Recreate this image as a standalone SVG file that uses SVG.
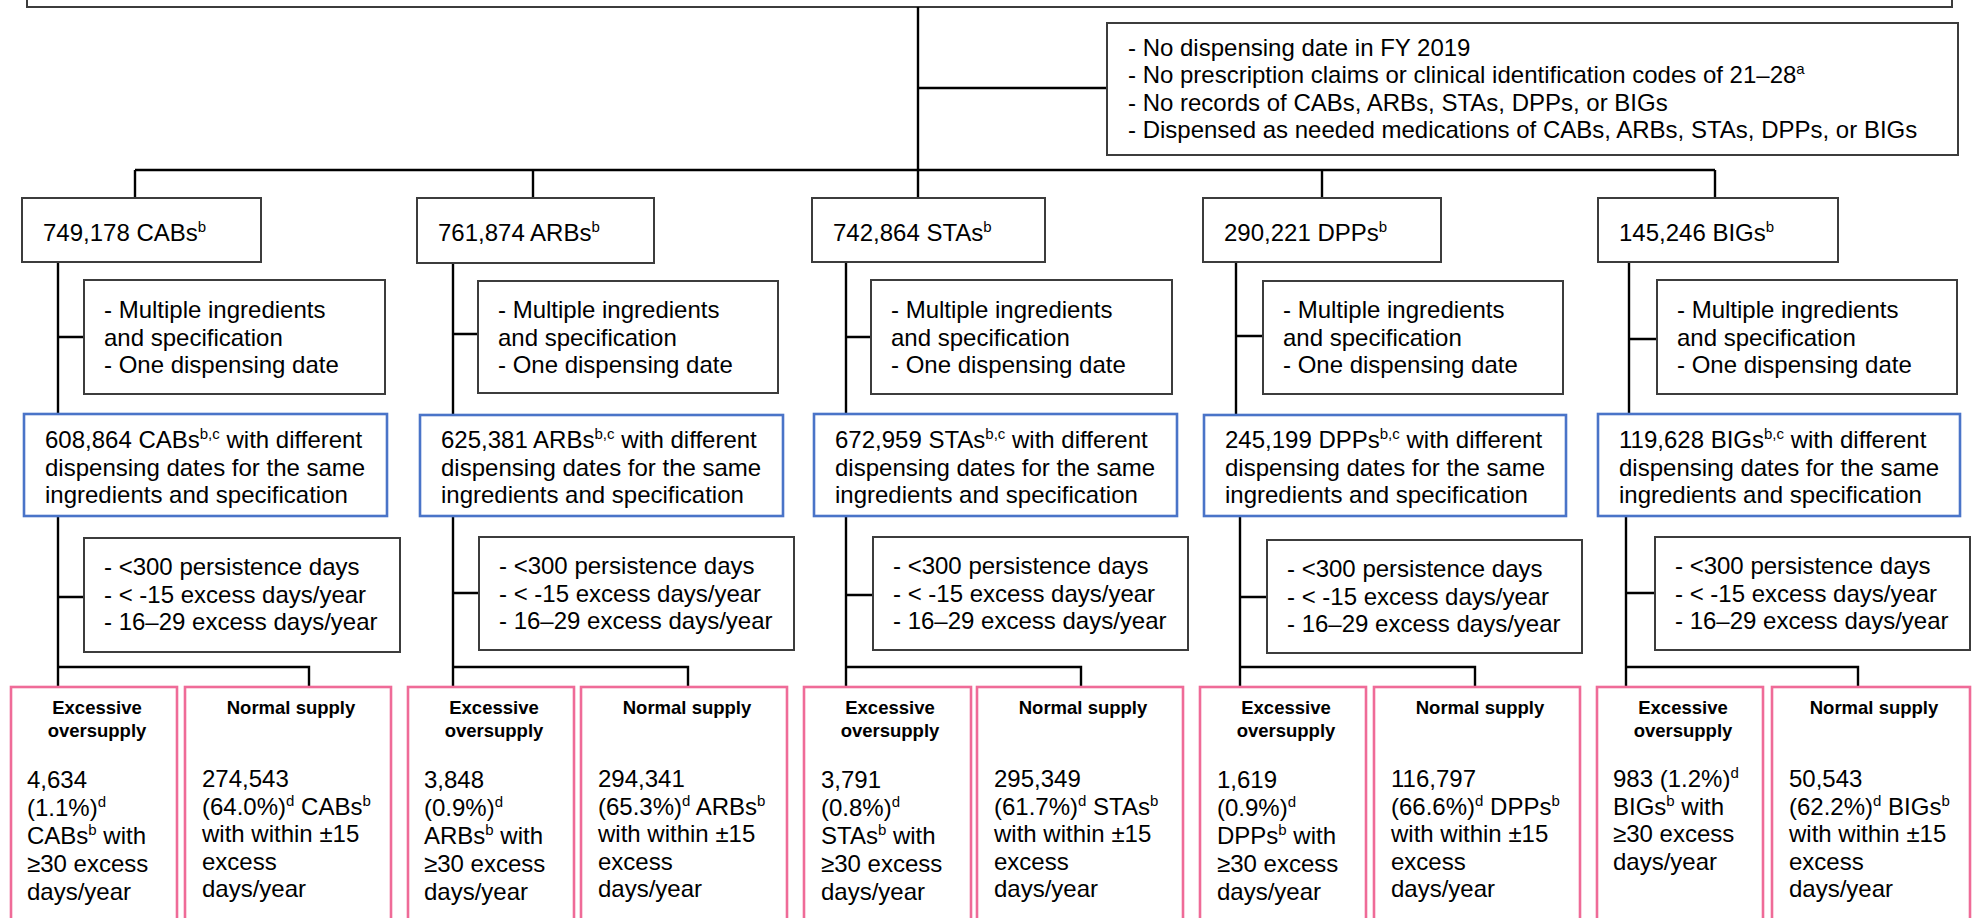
<svg xmlns="http://www.w3.org/2000/svg" width="1980" height="918" viewBox="0 0 1980 918">
<style>
text{font-family:"Liberation Sans",Arial,sans-serif;font-size:24px;fill:#000}
.t{font-weight:bold;font-size:18.5px;text-anchor:middle}
.box{fill:#fff;stroke:#3c3c3c;stroke-width:2}
.blue{fill:#fff;stroke:#4a74c8;stroke-width:2.6}
.pink{fill:#fff;stroke:#ef6b98;stroke-width:2.6}
.c{stroke:#000;stroke-width:2.4;fill:none}
</style>
<rect width="1980" height="918" fill="#fff"/>
<g id="top"><rect class="box" x="27" y="-20" width="1925" height="27"/></g>
<g id="connectors">
<path class="c" d="M918 7V198M918 88H1107M135 170H1715M135 170V198M533 170V198M1322 170V198M1715 170V198"/>
<path class="c" d="M58 262V414M58 337H84M58 516V687M58 597H84M58 667H309V687"/>
<path class="c" d="M453 263V415M453 334H478M453 516V686M453 593H479M453 667H688V686"/>
<path class="c" d="M846 262V414M846 337H871M846 516V687M846 595H873M846 667H1081V687"/>
<path class="c" d="M1236 262V415M1236 336H1263M1240 516V687M1240 597H1267M1240 667H1475V687"/>
<path class="c" d="M1629 262V414M1629 339H1657M1626 516V687M1626 593H1655M1626 667H1858V687"/>
</g>
<g id="exclusion-main">
<rect class="box" x="1107" y="23" width="851" height="132"/>
<text x="1128" y="56">- No dispensing date in FY 2019</text>
<text x="1128" y="83">- No prescription claims or clinical identification codes of 21–28<tspan font-size="15" dy="-9">a</tspan></text>
<text x="1128" y="111">- No records of CABs, ARBs, STAs, DPPs, or BIGs</text>
<text x="1128" y="138">- Dispensed as needed medications of CABs, ARBs, STAs, DPPs, or BIGs</text>
</g>

<g id="cab">
<rect class="box" x="22" y="198" width="239" height="64"/>
<text x="43" y="241">749,178 CABs<tspan font-size="15" dy="-9">b</tspan></text>
<rect class="box" x="84" y="280" width="301" height="114"/>
<text x="104" y="318">- Multiple ingredients</text><text x="104" y="346">and specification</text><text x="104" y="373">- One dispensing date</text>
<rect class="blue" x="24" y="414" width="363" height="102"/>
<text x="45" y="448">608,864 CABs<tspan font-size="15" dy="-9">b,c</tspan><tspan dy="9"> with different</tspan></text>
<text x="45" y="476">dispensing dates for the same</text><text x="45" y="503">ingredients and specification</text>
<rect class="box" x="84" y="538" width="316" height="114"/>
<text x="104" y="575">- &lt;300 persistence days</text><text x="104" y="603">- &lt; -15 excess days/year</text><text x="104" y="630">- 16–29 excess days/year</text>
<rect class="pink" x="11" y="687" width="166" height="250"/>
<text class="t" x="97" y="714">Excessive</text><text class="t" x="97" y="737">oversupply</text>
<text x="27" y="788">4,634</text><text x="27" y="816">(1.1%)<tspan font-size="15" dy="-9">d</tspan></text>
<text x="27" y="844">CABs<tspan font-size="15" dy="-9">b</tspan><tspan dy="9"> with</tspan></text><text x="27" y="872">≥30 excess</text><text x="27" y="900">days/year</text>
<rect class="pink" x="185" y="687" width="206" height="250"/>
<text class="t" x="291" y="714">Normal supply</text>
<text x="202" y="787">274,543</text><text x="202" y="815">(64.0%)<tspan font-size="15" dy="-9">d</tspan><tspan dy="9"> CABs</tspan><tspan font-size="15" dy="-9">b</tspan></text>
<text x="202" y="842">with within ±15</text><text x="202" y="870">excess</text><text x="202" y="897">days/year</text>
</g>

<g id="arb">
<rect class="box" x="417" y="198" width="237" height="65"/>
<text x="438" y="241">761,874 ARBs<tspan font-size="15" dy="-9">b</tspan></text>
<rect class="box" x="478" y="281" width="300" height="112"/>
<text x="498" y="318">- Multiple ingredients</text><text x="498" y="346">and specification</text><text x="498" y="373">- One dispensing date</text>
<rect class="blue" x="420" y="415" width="363" height="101"/>
<text x="441" y="448">625,381 ARBs<tspan font-size="15" dy="-9">b,c</tspan><tspan dy="9"> with different</tspan></text>
<text x="441" y="476">dispensing dates for the same</text><text x="441" y="503">ingredients and specification</text>
<rect class="box" x="479" y="537" width="315" height="113"/>
<text x="499" y="574">- &lt;300 persistence days</text><text x="499" y="602">- &lt; -15 excess days/year</text><text x="499" y="629">- 16–29 excess days/year</text>
<rect class="pink" x="408" y="687" width="166" height="250"/>
<text class="t" x="494" y="714">Excessive</text><text class="t" x="494" y="737">oversupply</text>
<text x="424" y="788">3,848</text><text x="424" y="816">(0.9%)<tspan font-size="15" dy="-9">d</tspan></text>
<text x="424" y="844">ARBs<tspan font-size="15" dy="-9">b</tspan><tspan dy="9"> with</tspan></text><text x="424" y="872">≥30 excess</text><text x="424" y="900">days/year</text>
<rect class="pink" x="581" y="687" width="206" height="250"/>
<text class="t" x="687" y="714">Normal supply</text>
<text x="598" y="787">294,341</text><text x="598" y="815">(65.3%)<tspan font-size="15" dy="-9">d</tspan><tspan dy="9"> ARBs</tspan><tspan font-size="15" dy="-9">b</tspan></text>
<text x="598" y="842">with within ±15</text><text x="598" y="870">excess</text><text x="598" y="897">days/year</text>
</g>

<g id="sta">
<rect class="box" x="812" y="198" width="233" height="64"/>
<text x="833" y="241">742,864 STAs<tspan font-size="15" dy="-9">b</tspan></text>
<rect class="box" x="871" y="280" width="301" height="114"/>
<text x="891" y="318">- Multiple ingredients</text><text x="891" y="346">and specification</text><text x="891" y="373">- One dispensing date</text>
<rect class="blue" x="814" y="414" width="363" height="102"/>
<text x="835" y="448">672,959 STAs<tspan font-size="15" dy="-9">b,c</tspan><tspan dy="9"> with different</tspan></text>
<text x="835" y="476">dispensing dates for the same</text><text x="835" y="503">ingredients and specification</text>
<rect class="box" x="873" y="537" width="315" height="113"/>
<text x="893" y="574">- &lt;300 persistence days</text><text x="893" y="602">- &lt; -15 excess days/year</text><text x="893" y="629">- 16–29 excess days/year</text>
<rect class="pink" x="804" y="687" width="167" height="250"/>
<text class="t" x="890" y="714">Excessive</text><text class="t" x="890" y="737">oversupply</text>
<text x="821" y="788">3,791</text><text x="821" y="816">(0.8%)<tspan font-size="15" dy="-9">d</tspan></text>
<text x="821" y="844">STAs<tspan font-size="15" dy="-9">b</tspan><tspan dy="9"> with</tspan></text><text x="821" y="872">≥30 excess</text><text x="821" y="900">days/year</text>
<rect class="pink" x="977" y="687" width="206" height="250"/>
<text class="t" x="1083" y="714">Normal supply</text>
<text x="994" y="787">295,349</text><text x="994" y="815">(61.7%)<tspan font-size="15" dy="-9">d</tspan><tspan dy="9"> STAs</tspan><tspan font-size="15" dy="-9">b</tspan></text>
<text x="994" y="842">with within ±15</text><text x="994" y="870">excess</text><text x="994" y="897">days/year</text>
</g>

<g id="dpp">
<rect class="box" x="1203" y="198" width="238" height="64"/>
<text x="1224" y="241">290,221 DPPs<tspan font-size="15" dy="-9">b</tspan></text>
<rect class="box" x="1263" y="281" width="300" height="113"/>
<text x="1283" y="318">- Multiple ingredients</text><text x="1283" y="346">and specification</text><text x="1283" y="373">- One dispensing date</text>
<rect class="blue" x="1204" y="415" width="362" height="101"/>
<text x="1225" y="448">245,199 DPPs<tspan font-size="15" dy="-9">b,c</tspan><tspan dy="9"> with different</tspan></text>
<text x="1225" y="476">dispensing dates for the same</text><text x="1225" y="503">ingredients and specification</text>
<rect class="box" x="1267" y="540" width="315" height="113"/>
<text x="1287" y="577">- &lt;300 persistence days</text><text x="1287" y="605">- &lt; -15 excess days/year</text><text x="1287" y="632">- 16–29 excess days/year</text>
<rect class="pink" x="1200" y="687" width="166" height="250"/>
<text class="t" x="1286" y="714">Excessive</text><text class="t" x="1286" y="737">oversupply</text>
<text x="1217" y="788">1,619</text><text x="1217" y="816">(0.9%)<tspan font-size="15" dy="-9">d</tspan></text>
<text x="1217" y="844">DPPs<tspan font-size="15" dy="-9">b</tspan><tspan dy="9"> with</tspan></text><text x="1217" y="872">≥30 excess</text><text x="1217" y="900">days/year</text>
<rect class="pink" x="1374" y="687" width="206" height="250"/>
<text class="t" x="1480" y="714">Normal supply</text>
<text x="1391" y="787">116,797</text><text x="1391" y="815">(66.6%)<tspan font-size="15" dy="-9">d</tspan><tspan dy="9"> DPPs</tspan><tspan font-size="15" dy="-9">b</tspan></text>
<text x="1391" y="842">with within ±15</text><text x="1391" y="870">excess</text><text x="1391" y="897">days/year</text>
</g>

<g id="big">
<rect class="box" x="1598" y="198" width="240" height="64"/>
<text x="1619" y="241">145,246 BIGs<tspan font-size="15" dy="-9">b</tspan></text>
<rect class="box" x="1657" y="280" width="300" height="114"/>
<text x="1677" y="318">- Multiple ingredients</text><text x="1677" y="346">and specification</text><text x="1677" y="373">- One dispensing date</text>
<rect class="blue" x="1598" y="414" width="362" height="102"/>
<text x="1619" y="448">119,628 BIGs<tspan font-size="15" dy="-9">b,c</tspan><tspan dy="9"> with different</tspan></text>
<text x="1619" y="476">dispensing dates for the same</text><text x="1619" y="503">ingredients and specification</text>
<rect class="box" x="1655" y="537" width="315" height="113"/>
<text x="1675" y="574">- &lt;300 persistence days</text><text x="1675" y="602">- &lt; -15 excess days/year</text><text x="1675" y="629">- 16–29 excess days/year</text>
<rect class="pink" x="1597" y="687" width="166" height="250"/>
<text class="t" x="1683" y="714">Excessive</text><text class="t" x="1683" y="737">oversupply</text>
<text x="1613" y="787">983 (1.2%)<tspan font-size="15" dy="-9">d</tspan></text>
<text x="1613" y="815">BIGs<tspan font-size="15" dy="-9">b</tspan><tspan dy="9"> with</tspan></text><text x="1613" y="842">≥30 excess</text><text x="1613" y="870">days/year</text>
<rect class="pink" x="1772" y="687" width="198" height="250"/>
<text class="t" x="1874" y="714">Normal supply</text>
<text x="1789" y="787">50,543</text><text x="1789" y="815">(62.2%)<tspan font-size="15" dy="-9">d</tspan><tspan dy="9"> BIGs</tspan><tspan font-size="15" dy="-9">b</tspan></text>
<text x="1789" y="842">with within ±15</text><text x="1789" y="870">excess</text><text x="1789" y="897">days/year</text>
</g>
</svg>
